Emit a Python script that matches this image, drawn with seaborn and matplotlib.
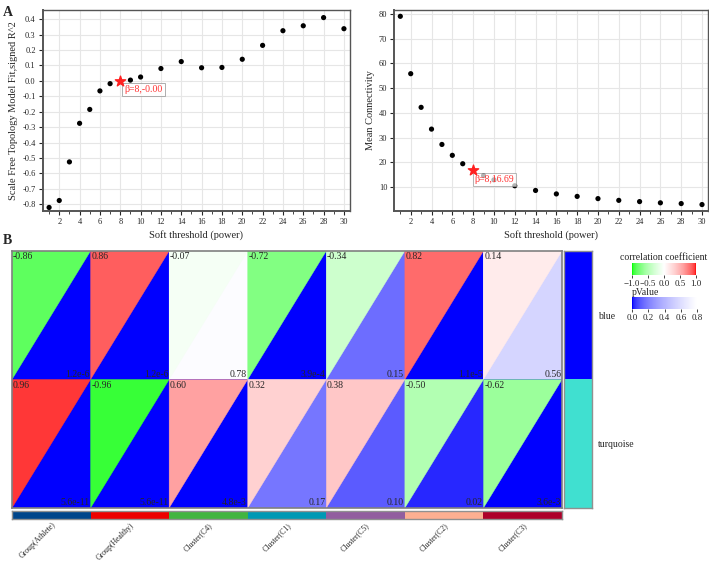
import numpy as np
import pandas as pd
import seaborn as sns
import matplotlib
matplotlib.use("Agg")
import matplotlib.pyplot as plt
from matplotlib.colors import LinearSegmentedColormap, ListedColormap, Normalize
from matplotlib.collections import PolyCollection
from matplotlib.cm import ScalarMappable
from matplotlib.ticker import MultipleLocator

# Soft threshold scan (panel A)
powers = [1, 2, 3, 4, 5, 6, 7, 8, 9, 10, 12, 14, 16, 18, 20, 22, 24, 26, 28, 30]
sft_r2 = [-0.82, -0.775, -0.525, -0.275, -0.185, -0.065, -0.018, -0.002, 0.005, 0.025,
          0.08, 0.125, 0.085, 0.087, 0.14, 0.23, 0.325, 0.357, 0.41, 0.338]
mean_k = [79.0, 55.8, 42.2, 33.4, 27.2, 22.8, 19.4, 16.69, 14.6, 12.9,
          10.5, 8.6, 7.2, 6.2, 5.3, 4.6, 4.1, 3.6, 3.3, 2.9]
picked_power = 8

# Module-trait relationships (panel B)
modules = ["blue", "turquoise"]
module_colors = ["#0000FF", "#40E0D0"]
traits = ["Group(Athlete)", "Group(Healthy)", "Cluster(C4)", "Cluster(C1)",
          "Cluster(C5)", "Cluster(C2)", "Cluster(C3)"]
trait_colors = ["#00468B", "#ED0000", "#42B540", "#0099B4", "#925E9F", "#FDAF91", "#AD002A"]
cor_blue = [-0.86, 0.86, -0.07, -0.72, -0.34, 0.82, 0.14]
cor_turquoise = [0.96, -0.96, 0.60, 0.32, 0.38, -0.50, -0.62]
p_blue = [1.2e-6, 1.2e-6, 0.78, 3.9e-4, 0.15, 1.1e-5, 0.56]
p_turquoise = [5.6e-11, 5.6e-11, 4.8e-3, 0.17, 0.10, 0.02, 3.6e-3]

sns.set_style("ticks")
plt.rcParams["font.family"] = ["Liberation Serif", "DejaVu Serif"]
plt.rcParams["axes.unicode_minus"] = False

fig = plt.figure(figsize=(7.09, 5.61), dpi=100)

sft = pd.DataFrame({"power": powers, "r2": sft_r2, "k": mean_k})
pick = sft[sft["power"] == picked_power].iloc[0]
rest = sft[sft["power"] != picked_power]


def style_top(ax):
    ax.grid(True, color="#e6e6e6", lw=0.8)
    ax.set_axisbelow(True)
    ax.xaxis.set_major_locator(MultipleLocator(2))
    ax.xaxis.set_minor_locator(MultipleLocator(1))
    ax.tick_params(labelsize=6, length=3, width=0.8, pad=2)
    ax.tick_params(which="minor", length=2, width=0.6)
    for s in ax.spines.values():
        s.set_visible(True)
        s.set_color("#555555")
        s.set_linewidth(1.0)
    ax.spines["left"].set_linewidth(1.4)
    ax.spines["bottom"].set_linewidth(1.4)
    ax.set_xlabel("Soft threshold (power)", fontsize=7.5, labelpad=3)


# panel A left: scale free fit
ax1 = fig.add_axes([0.0602, 0.6239, 0.4335, 0.3585])
sns.scatterplot(data=rest, x="power", y="r2", color="black", s=14, edgecolor="none", ax=ax1)
ax1.scatter(pick["power"], pick["r2"], marker="*", color="#ff2020", s=60, zorder=4)
ax1.annotate(f"β={picked_power},{pick['r2']:.2f}", (pick["power"], pick["r2"]),
             xytext=(3, -3), textcoords="offset points", ha="left", va="top",
             color="#ff3030", fontsize=7,
             bbox=dict(boxstyle="square,pad=0.2", fc="white", ec="#999999", lw=0.7, alpha=0.8))
ax1.set_xlim(0.37, 30.6)
ax1.set_ylim(-0.843, 0.46)
ax1.yaxis.set_major_locator(MultipleLocator(0.1))
style_top(ax1)
ax1.set_ylabel("Scale Free Topology Model Fit,signed R^2", fontsize=7.5, labelpad=3)

# panel A right: mean connectivity
ax2 = fig.add_axes([0.5561, 0.6239, 0.4421, 0.3585])
sns.scatterplot(data=rest, x="power", y="k", color="black", s=14, edgecolor="none", ax=ax2)
ax2.scatter(pick["power"], pick["k"], marker="*", color="#ff2020", s=60, zorder=4)
ax2.annotate(f"β={picked_power},{pick['k']:.2f}", (pick["power"], pick["k"]),
             xytext=(1, -3), textcoords="offset points", ha="left", va="top",
             color="#ff3030", fontsize=7,
             bbox=dict(boxstyle="square,pad=0.2", fc="white", ec="#999999", lw=0.7, alpha=0.7))
ax2.set_xlim(0.42, 30.55)
ax2.set_ylim(0.3, 81.6)
ax2.yaxis.set_major_locator(MultipleLocator(10))
style_top(ax2)
ax2.set_ylabel("Mean Connectivity", fontsize=7.5, labelpad=3)

fig.text(0.004, 0.99, "A", fontsize=10, fontweight="bold", va="top")
fig.text(0.004, 0.583, "B", fontsize=10, fontweight="bold", va="top")

# colour maps
cor_cmap = LinearSegmentedColormap.from_list("gwr", [
    (0.0, (0.0, 1.0, 0.0)), (0.02, (0.22, 1.0, 0.22)), (0.07, (0.38, 1.0, 0.38)),
    (0.2, (0.63, 1.0, 0.63)), (0.34, (0.82, 1.0, 0.82)), (0.5, (1.0, 1.0, 1.0)),
    (0.66, (1.0, 0.82, 0.82)), (0.8, (1.0, 0.63, 0.63)), (0.93, (1.0, 0.38, 0.38)),
    (0.98, (1.0, 0.22, 0.22)), (1.0, (1.0, 0.0, 0.0))])
cor_norm = Normalize(-1, 1)
ts = np.linspace(0, 1, 128)
p_cmap = ListedColormap([(np.sqrt(t), np.sqrt(t), 1.0) for t in ts])

cor_df = pd.DataFrame([cor_blue, cor_turquoise], index=modules, columns=traits)
p_df = pd.DataFrame([p_blue, p_turquoise], index=modules, columns=traits)

hax = fig.add_axes([0.0169, 0.0945, 0.7758, 0.4581])
pcax = fig.add_axes([0.8914, 0.4492, 0.0917, 0.0214])
ccax = fig.add_axes([0.8914, 0.5098, 0.0903, 0.0214])

sns.heatmap(p_df, ax=hax, cmap=p_cmap, vmin=0, vmax=0.8, cbar_ax=pcax,
            cbar_kws={"orientation": "horizontal", "ticks": [0, 0.2, 0.4, 0.6, 0.8]},
            xticklabels=False, yticklabels=False)

tris, tri_cols = [], []
for i, m in enumerate(modules):
    for j, t in enumerate(traits):
        tris.append([(j, i), (j + 1, i), (j, i + 1)])
        tri_cols.append(cor_cmap(cor_norm(cor_df.loc[m, t])))
hax.add_collection(PolyCollection(tris, facecolors=tri_cols, edgecolors=tri_cols, linewidths=0.3))


def fmt_p(p):
    if p < 0.01:
        mant, ex = f"{p:.1e}".split("e")
        return f"{mant}e{int(ex)}"
    return f"{p:.2f}"


for i, m in enumerate(modules):
    for j, t in enumerate(traits):
        hax.text(j + 0.01, i + 0.01, f"{cor_df.loc[m, t]:.2f}", ha="left", va="top", fontsize=7)
        hax.text(j + 0.99, i + 0.995, fmt_p(p_df.loc[m, t]), ha="right", va="bottom", fontsize=7)

for s in hax.spines.values():
    s.set_visible(True)
    s.set_color("#808080")
    s.set_linewidth(1.2)

pcb = hax.collections[0].colorbar
pcb.outline.set_visible(False)
pcax.tick_params(labelsize=6.5, length=2.5, width=0.6, pad=1)
pcax.set_title("pValue", fontsize=7, loc="left", pad=1)

ccb = fig.colorbar(ScalarMappable(norm=cor_norm, cmap=cor_cmap), cax=ccax, orientation="horizontal",
                   ticks=[-1, -0.5, 0, 0.5, 1])
ccb.outline.set_visible(False)
ccb.set_ticklabels(["\u22121.0", "\u22120.5", "0.0", "0.5", "1.0"])
ccax.tick_params(labelsize=6.5, length=2.5, width=0.6, pad=1)
ccax.set_title("correlation coefficient", fontsize=7, pad=2)

# module side bar
sax = fig.add_axes([0.7955, 0.0945, 0.0395, 0.4581])
sns.heatmap(pd.DataFrame({"m": range(len(modules))}, index=modules), ax=sax,
            cmap=ListedColormap(module_colors), cbar=False, xticklabels=False, yticklabels=modules)
sax.yaxis.tick_right()
sax.tick_params(axis="y", length=0, labelsize=7, pad=4, labelrotation=0)
sax.set_ylabel("")
for s in sax.spines.values():
    s.set_visible(True)
    s.set_color("#909090")
    s.set_linewidth(1.0)

# trait colour bar
tax = fig.add_axes([0.0169, 0.0749, 0.7758, 0.0143])
sns.heatmap(pd.DataFrame([list(range(len(traits)))], columns=traits), ax=tax,
            cmap=ListedColormap(trait_colors), cbar=False, yticklabels=False, xticklabels=traits)
tax.tick_params(axis="x", length=0, pad=1.5)
plt.setp(tax.get_xticklabels(), rotation=45, ha="right", va="top", rotation_mode="anchor",
         fontsize=5.6)
for s in tax.spines.values():
    s.set_visible(True)
    s.set_color("#909090")
    s.set_linewidth(1.0)

fig.savefig("out.png", dpi=100)
